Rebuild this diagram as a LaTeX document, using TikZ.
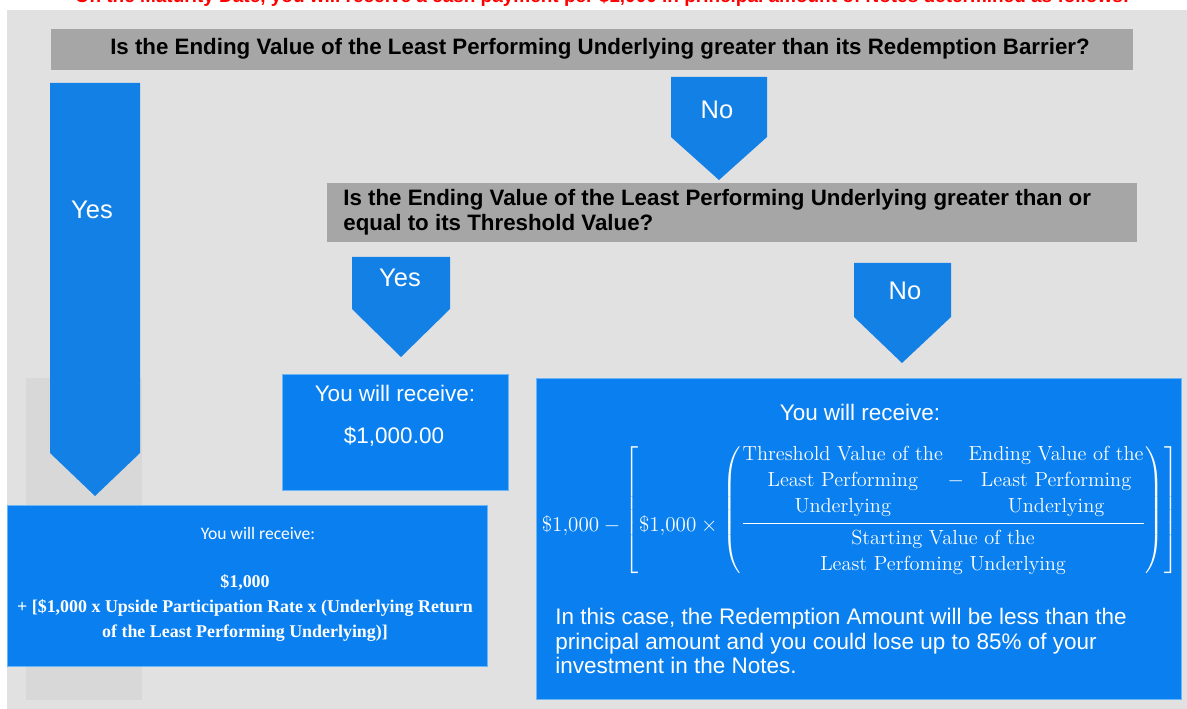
\documentclass[tikz,border=0pt]{standalone}
\usepackage{amsmath}
\usepackage{fontspec}
\newfontfamily\arialfont{Liberation Sans}
\newfontfamily\calibrifont{Carlito}
\newfontfamily\cambriafont{Liberation Serif}
\usetikzlibrary{positioning}

\definecolor{bgGray}{HTML}{E1E1E1}
\definecolor{colGray}{HTML}{D8D8D8}
\definecolor{barGray}{HTML}{A6A6A6}
\definecolor{arrowBlue}{HTML}{1380E6}
\definecolor{boxBlue}{HTML}{0A80F0}
\definecolor{edgeBlue}{HTML}{6DB6F5}

\tikzset{
  question/.style={font=\arialfont\bfseries\fontsize{12.7}{14.2}\selectfont, inner sep=0pt},
  answer/.style={font=\arialfont\fontsize{14.5}{16}\selectfont, text=white, inner sep=0pt},
  plain/.style={font=\arialfont\fontsize{12.8}{13.7}\selectfont, text=white, inner sep=0pt},
  arrowshape/.style={fill=arrowBlue},
  resultbox/.style={fill=boxBlue, draw=edgeBlue, line width=0.5pt},
  bar/.style={fill=barGray}
}
% text lowered to the level of the fraction bar
\newcommand{\atbar}[1]{\raisebox{-9pt}{$#1$}}

\begin{document}
\begin{tikzpicture}[x=0.02cm,y=-0.02cm]
\useasboundingbox (0,0) rectangle (1187,709);
% page
\fill[bgGray] (7,10) rectangle (1187,709);
\fill[colGray] (26,378) rectangle (142,700);
\node[font=\arialfont\bfseries\fontsize{10.8}{12}\selectfont, text=red, anchor=base, inner sep=0pt] (heading) at (602,2.8) {On the Maturity Date, you will receive a cash payment per \$1,000 in principal amount of Notes determined as follows:};

% first question
\fill[bar] (51,29) rectangle (1133,70);
\node[question] (q1) at (600,49) {Is the Ending Value of the Least Performing Underlying greater than its Redemption Barrier?};

% yes / no
\fill[arrowshape] (50,83) -- (140,83) -- (140,453) -- (95,496) -- (50,453) -- cycle;
\node[answer] (yesA) at (92,210) {Yes};
\fill[arrowshape] (671,77) -- (767,77) -- (767,137) -- (719,180) -- (671,137) -- cycle;
\node[answer] (noA) at (717,110) {No};

% second question
\fill[bar] (327,183) rectangle (1137,242);
\node[question, align=left, anchor=west] (q2) at (343,212.5) {Is the Ending Value of the Least Performing Underlying greater than or\\equal to its Threshold Value?};

\fill[arrowshape] (352,257) -- (450,257) -- (450,309) -- (401,357) -- (352,309) -- cycle;
\node[answer] (yesB) at (400,278) {Yes};
\fill[arrowshape] (854,263) -- (951,263) -- (951,317) -- (902,363) -- (854,317) -- cycle;
\node[answer] (noB) at (905,291) {No};

% results
\filldraw[resultbox] (282,374) rectangle (508,490);
\node[plain] (fixedHead) at (395,393) {You will receive:};
\node[plain] (fixedSum) at (394,437) {\$1,000.00};

\filldraw[resultbox] (7,505) rectangle (487,666);
\node[font=\calibrifont\fontsize{10}{12}\selectfont, text=white, inner sep=0pt] (upHead) at (258,533) {You will receive:};
\node[font=\cambriafont\bfseries\fontsize{10.2}{14.2}\selectfont, text=white, align=center, inner sep=0pt] (upSum) at (245,608) {\$1,000\\+ [\$1,000 x Upside Participation Rate x (Underlying Return\\of the Least Performing Underlying)]};

\filldraw[resultbox] (536,378) rectangle (1181,699);
\node[plain] (lossHead) at (860,412) {You will receive:};
\node[text=white, font=\fontsize{11.6}{14.8}\selectfont, inner sep=0pt] (lossSum) at (860,510) {\delimiterfactor=850 \delimitershortfall=12pt $\atbar{\$1{,}000}\mathbin{\atbar{-}}\left[\atbar{\$1{,}000}\mathbin{\atbar{\times}}\left(\vcenter{\hbox{$\displaystyle\frac{\begin{array}{@{}c@{}}\text{Threshold Value of the}\\ \text{Least Performing}\\ \text{Underlying}\end{array}-\begin{array}{@{}c@{}}\text{Ending Value of the}\\ \text{Least Performing}\\ \text{Underlying}\end{array}}{\begin{array}{@{}c@{}}\text{Starting Value of the}\\ \text{Least Perfoming Underlying}\end{array}}$}}\right)\right]$};
\node[plain, align=left, anchor=west] (lossNote) at (555,641) {In this case, the Redemption Amount will be less than the\\principal amount and you could lose up to 85\% of your\\investment in the Notes.};
\end{tikzpicture}
\end{document}
